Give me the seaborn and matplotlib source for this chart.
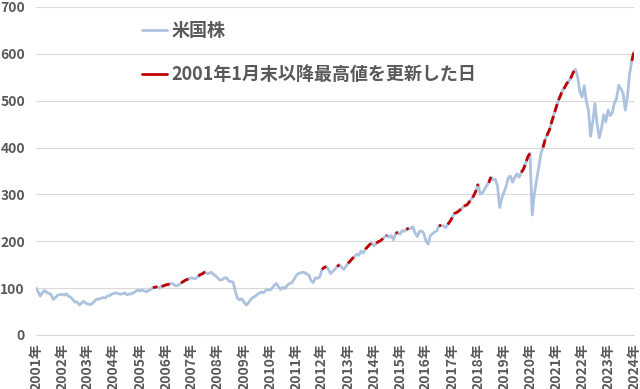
import pandas as pd
import matplotlib.pyplot as plt
import seaborn as sns
from matplotlib.lines import Line2D

# monthly values, Jan 2001 = 100
start_month = "2001-01-01"
end_month = "2024-01-01"
us_stock = [
    100, 92, 83, 90, 95, 91, 89, 86, 76, 80, 85, 86,          # 2001
    87, 85, 88, 83, 81, 76, 70, 71, 64, 68, 72, 68,            # 2002
    66, 65, 67, 72, 76, 77, 78, 80, 79, 83, 84, 87,            # 2003
    89, 90, 88, 87, 88, 90, 86, 87, 88, 90, 93, 96,            # 2004
    94, 96, 94, 92, 95, 97, 101, 102, 103, 100, 104, 105,      # 2005
    107, 108, 109, 110, 106, 105, 107, 111, 114, 117, 119, 121,  # 2006
    122, 120, 121, 126, 129, 131, 135, 131, 132, 134, 129, 126,  # 2007
    121, 117, 118, 122, 122, 115, 114, 113, 93, 78, 75, 77,    # 2008
    70, 64, 68, 75, 80, 82, 86, 89, 92, 90, 95, 97,            # 2009
    96, 100, 106, 110, 103, 97, 102, 99, 106, 110, 111, 118,   # 2010
    126, 131, 132, 134, 133, 130, 128, 116, 112, 122, 121, 124,  # 2011
    140, 144, 146, 140, 131, 136, 140, 146, 150, 145, 140, 146,  # 2012
    153, 158, 163, 167, 172, 170, 179, 175, 183, 188, 193, 196,  # 2013
    190, 196, 199, 201, 205, 209, 213, 209, 212, 203, 217, 219,  # 2014
    215, 223, 221, 225, 228, 227, 231, 217, 210, 221, 222, 217,  # 2015
    200, 194, 212, 216, 220, 222, 233, 234, 233, 229, 236, 242,  # 2016
    250, 259, 261, 264, 268, 272, 276, 278, 284, 290, 297, 307,  # 2017
    322, 301, 303, 310, 319, 325, 337, 331, 332, 319, 272, 292,  # 2018
    305, 318, 335, 339, 326, 336, 344, 337, 347, 354, 366, 380,  # 2019
    388, 256, 300, 330, 356, 386, 400, 417, 428, 438, 455, 470,  # 2020
    485, 500, 510, 522, 528, 537, 542, 550, 561, 567, 550, 520,  # 2021
    508, 532, 500, 480, 424, 455, 494, 450, 421, 440, 470, 455,  # 2022
    480, 468, 474, 495, 505, 533, 525, 516, 480, 510, 558, 585,  # 2023
    605,                                                       # 2024
]
year_ticks = list(range(2001, 2025))
tick_labels = [f"{y}年" for y in year_ticks]
y_ticks = [0, 100, 200, 300, 400, 500, 600, 700]
series_label = "米国株"
high_label = "2001年1月末以降最高値を更新した日"

dates = pd.date_range(start_month, end_month, freq="MS")
df = pd.DataFrame({"date": dates, "value": us_stock})
# points that set a new high since the start
df["high"] = df["value"].where(df["value"] >= df["value"].cummax())
df.loc[0, "high"] = float("nan")

sns.set_style("white")
plt.rcParams["font.family"] = ["Noto Sans CJK JP", "DejaVu Sans"]

blue = "#adc2df"
red = "#c00000"
grey = "#595959"

fig, ax = plt.subplots(figsize=(6.4, 3.89), dpi=100)
fig.subplots_adjust(left=36 / 640, right=634 / 640, top=1 - 7 / 389, bottom=1 - 335 / 389)

sns.lineplot(data=df, x="date", y="value", color=blue, linewidth=2.0, ax=ax)
ax.plot(df["date"], df["high"], color=red, linewidth=2.0, linestyle=(0, (3, 1.5)))

ax.set_xlim(dates[0], dates[-1])
ax.set_ylim(0, 700)
ax.set_yticks(y_ticks)
ax.set_xticks(pd.to_datetime([f"{y}-01-01" for y in year_ticks]))
ax.set_xticklabels(tick_labels, rotation=90, fontweight="bold")
ax.set_yticklabels([str(v) for v in y_ticks], fontweight="bold")
ax.set_xlabel("")
ax.set_ylabel("")

ax.tick_params(axis="x", length=4, color="#d9d9d9", labelsize=10, labelcolor=grey, pad=2)
ax.tick_params(axis="y", length=0, labelsize=10, labelcolor=grey, pad=8)
ax.yaxis.grid(True, color="#d9d9d9", linewidth=0.8)
ax.set_axisbelow(True)
for side in ["left", "right", "top"]:
    ax.spines[side].set_visible(False)
ax.spines["bottom"].set_color("#d9d9d9")

handles = [Line2D([], [], color=blue, linewidth=2), Line2D([], [], color=red, linewidth=2)]
leg = fig.legend(handles, [series_label, high_label], loc="upper left",
                 bbox_to_anchor=(142 / 640, 1 - 21 / 389), frameon=False,
                 prop={"size": 13, "weight": "bold"}, labelspacing=1.4,
                 handlelength=1.4, handletextpad=0.25, borderpad=0, borderaxespad=0)
for t in leg.get_texts():
    t.set_color(grey)

fig.savefig("out.png", dpi=100)
